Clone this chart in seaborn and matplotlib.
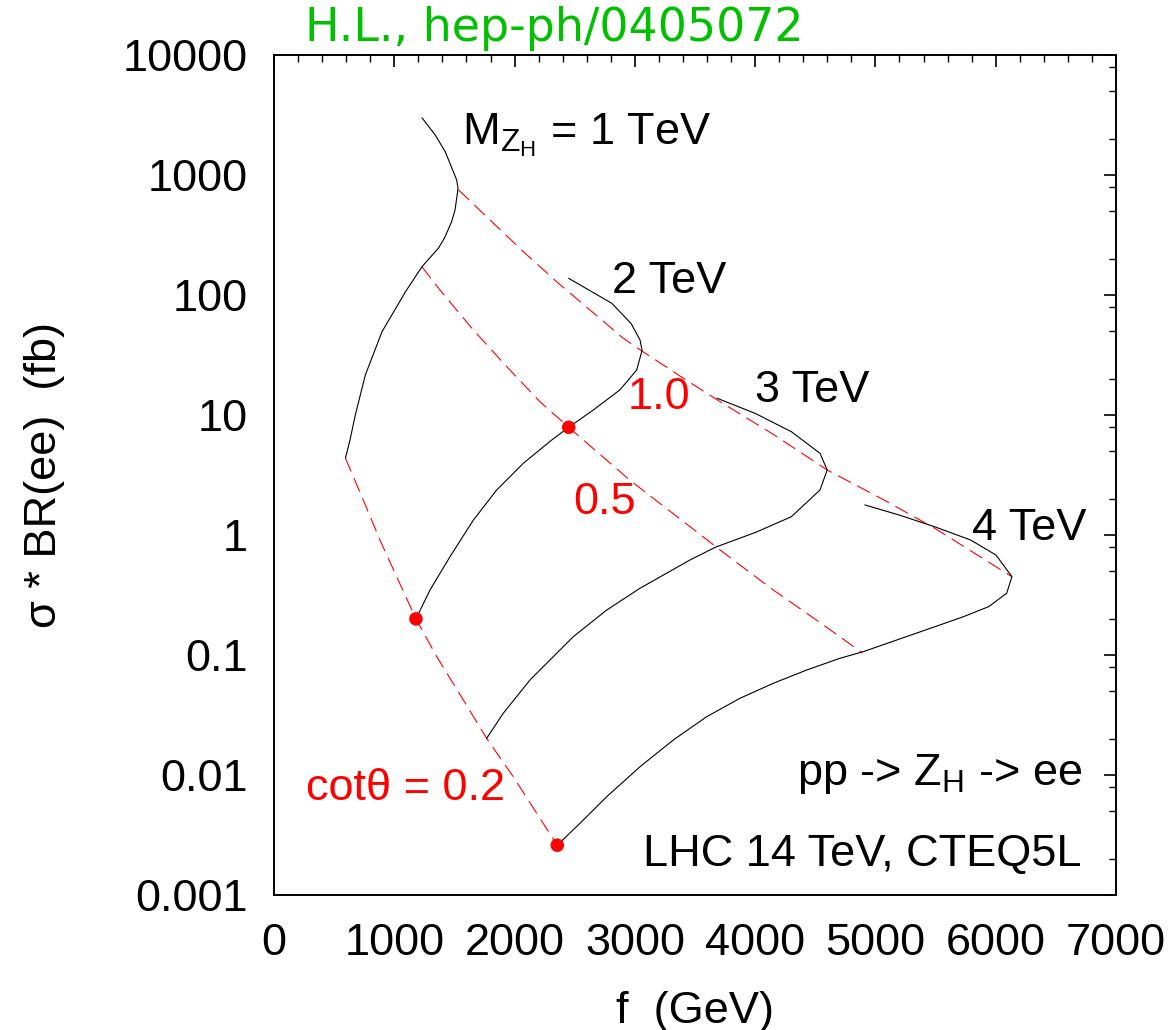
import numpy as np
import pandas as pd
import matplotlib
matplotlib.use("Agg")
import matplotlib.pyplot as plt
import seaborn as sns
from matplotlib.ticker import MultipleLocator, LogLocator, NullFormatter

# ---------------- data ----------------
# M_ZH = 1 TeV curve (f in GeV, sigma*BR in fb)
f_1tev = [1230, 1341, 1424, 1519, 1530, 1505, 1476, 1417, 1368, 1230, 1092, 898, 759, 676, 632, 594]
s_1tev = [3000, 2150, 1560, 908, 770, 511, 406, 298.5, 246.5, 172, 106, 49.5, 21.5, 10.0, 6.2, 4.36]

# M_ZH = 2 TeV
f_2tev = [2450, 2808, 2968, 3043, 3060, 3015, 2876, 2654, 2450, 2309, 2073, 1851, 1657, 1463, 1297, 1180]
s_2tev = [137.7, 85.3, 58, 42.2, 34.5, 23.7, 16.2, 11.0, 7.9, 6.19, 3.96, 2.37, 1.33, 0.659, 0.348, 0.2]

# M_ZH = 3 TeV
f_3tev = [3683, 4002, 4301, 4539, 4599, 4539, 4301, 4002, 3674, 3458, 3043, 2766, 2488, 2211, 2128, 1906, 1768]
s_3tev = [13.8, 10.3, 7.26, 4.80, 3.48, 2.37, 1.42, 1.05, 0.794, 0.619, 0.36, 0.237, 0.142, 0.075, 0.0619,
          0.0327, 0.0202]

# M_ZH = 4 TeV
f_4tev = [4912, 5195, 5494, 5792, 6002, 6135, 6091, 5942, 5732, 5494, 4899, 4705, 4429, 4151, 3874, 3597, 3320,
          3043, 2766, 2544, 2355]
s_4tev = [1.78, 1.47, 1.17, 0.908, 0.681, 0.449, 0.327, 0.253, 0.2086, 0.172, 0.1066, 0.0939, 0.075, 0.0581,
          0.0436, 0.0306, 0.01959, 0.01173, 0.00659, 0.00396, 0.0026]

# constant cot(theta) lines
f_cot10 = [1535, 1796, 2073, 2350, 2627, 2904, 3059, 3405, 3704, 4151, 4599, 5046, 5494, 6135]
s_cot10 = [750, 422, 229.6, 129, 75, 43.6, 34.1, 20.2, 13.0, 6.9, 3.48, 2.02, 1.137, 0.449]

f_cot05 = [1230, 1380, 1657, 1935, 2211, 2450, 2957, 3674, 3818, 4151, 4429, 4705, 4890]
s_cot05 = [172, 110, 51.1, 25.3, 12.9, 7.9, 2.87, 0.799, 0.619, 0.348, 0.2226, 0.142, 0.104]

f_cot02 = [594, 742, 881, 1020, 1180, 1353, 1574, 1768, 1989, 2184, 2355]
s_cot02 = [4.36, 1.96, 0.908, 0.449, 0.2, 0.0968, 0.0422, 0.0202, 0.00968, 0.0048, 0.0026]

# highlighted points
dot_f = [2450, 1180, 2355]
dot_s = [7.9, 0.2, 0.0026]

x_ticks = [0, 1000, 2000, 3000, 4000, 5000, 6000, 7000]
y_ticks = [0.001, 0.01, 0.1, 1, 10, 100, 1000, 10000]
y_tick_labels = ["0.001", "0.01", "0.1", "1", "10", "100", "1000", "10000"]

curves = pd.concat([
    pd.DataFrame({"f": f_1tev, "s": s_1tev, "curve": "1 TeV"}),
    pd.DataFrame({"f": f_2tev, "s": s_2tev, "curve": "2 TeV"}),
    pd.DataFrame({"f": f_3tev, "s": s_3tev, "curve": "3 TeV"}),
    pd.DataFrame({"f": f_4tev, "s": s_4tev, "curve": "4 TeV"}),
], ignore_index=True)

cotlines = pd.concat([
    pd.DataFrame({"f": f_cot10, "s": s_cot10, "cot": "1.0"}),
    pd.DataFrame({"f": f_cot05, "s": s_cot05, "cot": "0.5"}),
    pd.DataFrame({"f": f_cot02, "s": s_cot02, "cot": "0.2"}),
], ignore_index=True)

# ---------------- style ----------------
sns.set_theme(style="white")
plt.rcParams["font.family"] = ["Liberation Sans", "DejaVu Sans"]
plt.rcParams["mathtext.fontset"] = "custom"
plt.rcParams["mathtext.rm"] = "Liberation Sans"
plt.rcParams["mathtext.it"] = "Liberation Sans:italic"
plt.rcParams["mathtext.bf"] = "Liberation Sans:bold"
for k in ["text.color", "axes.labelcolor", "xtick.color", "ytick.color", "axes.edgecolor"]:
    plt.rcParams[k] = "black"

FS = 32.5

fig = plt.figure(figsize=(11.72, 10.30), dpi=100)
ax = fig.add_axes([274 / 1172, 1 - 895 / 1030, 842 / 1172, 840 / 1030])

sns.lineplot(data=cotlines, x="f", y="s", units="cot", estimator=None, sort=False,
             color="red", lw=0.8, linestyle=(0, (13, 6.5)), ax=ax, legend=False)
sns.lineplot(data=curves, x="f", y="s", units="curve", estimator=None, sort=False,
             color="black", lw=0.8, ax=ax, legend=False)
sns.scatterplot(x=dot_f, y=dot_s, color="red", s=95, edgecolor="none", zorder=5, ax=ax, legend=False)

ax.set_yscale("log")
ax.set_xlim(0, 7000)
ax.set_ylim(0.001, 10000)

ax.xaxis.set_minor_locator(MultipleLocator(200))
ax.set_xticks(x_ticks)
ax.set_xticklabels([str(v) for v in x_ticks])
ax.yaxis.set_minor_locator(LogLocator(base=10, subs=[2, 5, 8], numticks=20))
ax.yaxis.set_minor_formatter(NullFormatter())
ax.set_yticks(y_ticks)
ax.set_yticklabels(y_tick_labels)

ax.tick_params(which="both", direction="in", top=True, right=True, colors="black")
ax.tick_params(which="major", length=8.5, width=1.2, labelsize=FS)
ax.tick_params(which="minor", length=5, width=1.0)
ax.tick_params(axis="x", which="major", pad=20)
ax.tick_params(axis="y", which="major", pad=19)
for sp in ax.spines.values():
    sp.set_linewidth(1.4)
    sp.set_color("black")

ax.set_xlabel("")
ax.set_ylabel("")
fig.text(695 / 1172, 1 - 1023 / 1030, "f  (GeV)", ha="center", va="baseline", fontsize=FS)
fig.text(45 / 1172, 1 - 475 / 1030, "σ * BR(ee)  (fb)", rotation=90, ha="center", va="center", fontsize=FS)
fig.text(305 / 1172, 1 - 41 / 1030, "H.L., hep-ph/0405072", color="#00C000",
         family="DejaVu Sans", fontsize=33, ha="left", va="baseline")

# annotations
ax.text(1563, 1778, r"M$_{\mathrm{Z}_{\mathrm{H}}}$ = 1 TeV", ha="left", va="baseline", fontsize=FS)
ax.text(2807, 103.9, "2 TeV", ha="left", va="baseline", fontsize=FS)
ax.text(3999, 12.8, "3 TeV", ha="left", va="baseline", fontsize=FS)
ax.text(5803, 0.909, "4 TeV", ha="left", va="baseline", fontsize=FS)
ax.text(2943, 11.2, "1.0", color="red", ha="left", va="baseline", fontsize=FS)
ax.text(2486, 1.496, "0.5", color="red", ha="left", va="baseline", fontsize=FS)
ax.text(266, 0.00619, "cotθ = 0.2", color="red", ha="left", va="baseline", fontsize=FS)
ax.text(6717, 0.00825, r"pp -> Z$_{\mathrm{H}}$ -> ee", ha="right", va="baseline", fontsize=FS)
ax.text(6717, 0.001745, "LHC 14 TeV, CTEQ5L", ha="right", va="baseline", fontsize=FS)

fig.savefig("out.png", dpi=100)
